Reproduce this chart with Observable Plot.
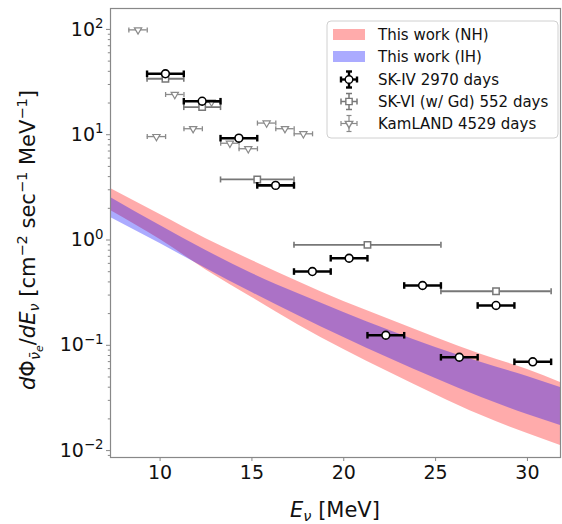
<!DOCTYPE html>
<html><head><meta charset="utf-8">
<script src="https://cdn.jsdelivr.net/npm/d3@7"></script>
<script src="https://cdn.jsdelivr.net/npm/@observablehq/plot@0.6"></script>
<style>
body{margin:0;background:#fff;}
#chart{width:562px;height:524px;}
</style>
</head><body><div id="chart"></div>
<script>
// ---- Model bands (flux, cm^-2 s^-1 MeV^-1)
const bandEnergy = [7.3, 10, 12.5, 15, 17.5, 20, 22.5, 25, 27.5, 30, 31.8];
const nhUpper = [3.09, 1.75, 1.03, 0.639, 0.403, 0.260, 0.176, 0.1185, 0.0817, 0.0588, 0.0443];
const nhLower = [1.91, 1.01, 0.52, 0.284, 0.157, 0.0911, 0.0551, 0.0340, 0.0215, 0.0145, 0.0112];
const ihUpper = [2.53, 1.37, 0.795, 0.481, 0.310, 0.205, 0.138, 0.0952, 0.0686, 0.0505, 0.0397];
const ihLower = [1.64, 0.926, 0.536, 0.317, 0.192, 0.1185, 0.0748, 0.0483, 0.0319, 0.0220, 0.0173];

// ---- SK-IV 2970 days
const skivEnergy = [10.29, 12.29, 14.29, 16.29, 18.29, 20.29, 22.29, 24.29, 26.29, 28.29, 30.29];
const skivLow    = [9.29, 11.29, 13.29, 15.29, 17.29, 19.29, 21.29, 23.29, 25.29, 27.29, 29.29];
const skivHigh   = [11.29, 13.29, 15.29, 17.29, 19.29, 21.29, 23.29, 25.29, 27.29, 29.29, 31.29];
const skivFlux   = [37.9, 20.8, 9.27, 3.3, 0.502, 0.671, 0.1246, 0.370, 0.077, 0.239, 0.0697];

// ---- SK-VI (w/ Gd) 552 days
const skviEnergy = [10.29, 12.29, 15.29, 21.29, 28.29];
const skviLow    = [9.29, 11.29, 13.29, 17.29, 25.29];
const skviHigh   = [11.29, 13.29, 17.29, 25.29, 31.29];
const skviFlux   = [34.0, 18.3, 3.76, 0.90, 0.326];

// ---- KamLAND 4529 days
const kamEnergy = [8.8, 9.8, 10.8, 11.8, 12.8, 13.8, 14.8, 15.8, 16.8, 17.8];
const kamLow    = [8.3, 9.3, 10.3, 11.3, 12.3, 13.3, 14.3, 15.3, 16.3, 17.3];
const kamHigh   = [9.3, 10.3, 11.3, 12.3, 13.3, 14.3, 15.3, 16.3, 17.3, 18.3];
const kamFlux   = [99, 9.6, 24.1, 11.4, 20.4, 8.3, 7.36, 12.9, 11.4, 10.2];

// ---- Axis ticks
const xTicks = [10, 15, 20, 25, 30];
const yTicks = [0.01, 0.1, 1, 10, 100];
const yTickExp = ["\u22122", "\u22121", "0", "1", "2"];
const legendLabels = ["This work (NH)", "This work (IH)", "SK-IV 2970 days", "SK-VI (w/ Gd) 552 days", "KamLAND 4529 days"];

const band = bandEnergy.map((e, i) => ({e, nhLo: nhLower[i], nhHi: nhUpper[i], ihLo: ihLower[i], ihHi: ihUpper[i]}));
const skiv = skivEnergy.map((e, i) => ({e, lo: skivLow[i], hi: skivHigh[i], f: skivFlux[i]}));
const skvi = skviEnergy.map((e, i) => ({e, lo: skviLow[i], hi: skviHigh[i], f: skviFlux[i]}));
const kam  = kamEnergy.map((e, i) => ({e, lo: kamLow[i], hi: kamHigh[i], f: kamFlux[i]}));

const yDomain = [0.0086, 158];
const minorTicks = [0.001, 0.01, 0.1, 1, 10, 100]
  .flatMap(d => [2,3,4,5,6,7,8,9].map(k => k * d))
  .filter(v => v >= yDomain[0] && v <= yDomain[1]);

const vbar = { draw(ctx, size) { const r = Math.sqrt(size / Math.PI); ctx.moveTo(0, -r); ctx.lineTo(0, r); } };

const SKIV = "#000", SKVI = "#777", KAM = "#8a8a8a";

function errSeries(data, color, lw, capR, capW, symbol, r, mw, rotate) {
  return [
    Plot.ruleY(data, {y: "f", x1: "lo", x2: "hi", stroke: color, strokeWidth: lw}),
    Plot.dot(data, {x: "lo", y: "f", symbol: vbar, r: capR, stroke: color, strokeWidth: capW, fill: "none"}),
    Plot.dot(data, {x: "hi", y: "f", symbol: vbar, r: capR, stroke: color, strokeWidth: capW, fill: "none"}),
    Plot.dot(data, {x: "e", y: "f", symbol, r, stroke: color, strokeWidth: mw, fill: "white", rotate: rotate || 0})
  ];
}

const plot = Plot.plot({
  width: 562, height: 524,
  marginLeft: 110, marginRight: 2, marginTop: 8, marginBottom: 67,
  style: {fontFamily: "DejaVu Sans, sans-serif", fontSize: "19px", background: "#fff", color: "#000"},
  x: {domain: [7.3, 31.8]},
  y: {type: "log", domain: yDomain},
  marks: [
    Plot.areaY(band, {x: "e", y1: "nhLo", y2: "nhHi", fill: "red", fillOpacity: 0.33, curve: "monotone-x"}),
    Plot.areaY(band, {x: "e", y1: "ihLo", y2: "ihHi", fill: "blue", fillOpacity: 0.33, curve: "monotone-x"}),
    ...errSeries(kam, KAM, 1.3, 2.5, 1.3, "triangle", 2.7, 1.2, 180),
    ...errSeries(skvi, SKVI, 1.8, 3, 1.6, "square", 3.6, 1.5),
    ...errSeries(skiv, SKIV, 2.6, 3.3, 2.4, "circle", 3.9, 1.6),
    Plot.frame({stroke: "#888", strokeWidth: 1.2}),
    Plot.axisX({ticks: xTicks, tickSize: 4, tickPadding: 4, label: null, stroke: "#888", fill: "#111"}),
    Plot.axisY({ticks: minorTicks, tickSize: 2.2, tickFormat: () => "", label: null, stroke: "#888"}),
    Plot.axisY({ticks: yTicks, tickSize: 4, tickPadding: 3, label: null, stroke: "#888", fill: "#111",
      tickFormat: d => "10^" + yTickExp[yTicks.indexOf(d)]})
  ]
});
document.getElementById("chart").appendChild(plot);

const svg = d3.select(plot);

// Rich tick labels (10 with superscript)
svg.selectAll("text").each(function() {
  const t = d3.select(this);
  const s = t.text();
  if (/^10\^/.test(s)) {
    const exp = s.slice(3);
    t.text("10");
    t.append("tspan").attr("dy", "-0.55em").attr("font-size", "0.7em").text(exp);
  }
});

// Axis labels
const xl = svg.append("text")
  .attr("x", 335).attr("y", 517).attr("text-anchor", "middle")
  .attr("font-size", 21).attr("fill", "#111");
xl.append("tspan").attr("font-style", "italic").text("E");
xl.append("tspan").attr("font-style", "italic").attr("font-size", 14.5).attr("dy", 4).text("\u03bd");
xl.append("tspan").attr("dy", -4).text(" [MeV]");

const yl = svg.append("text")
  .attr("transform", "translate(35,240) rotate(-90)")
  .attr("text-anchor", "middle").attr("font-size", 21).attr("fill", "#111");
yl.append("tspan").attr("font-style", "italic").text("d");
yl.append("tspan").text("\u03a6");
yl.append("tspan").attr("font-style", "italic").attr("font-size", 14.5).attr("dy", 5).text("\u03bd\u0304");
yl.append("tspan").attr("font-style", "italic").attr("font-size", 11).attr("dy", 3).text("e");
yl.append("tspan").attr("dy", -8).text("/");
yl.append("tspan").attr("font-style", "italic").text("dE");
yl.append("tspan").attr("font-style", "italic").attr("font-size", 14.5).attr("dy", 4).text("\u03bd");
yl.append("tspan").attr("dy", -4).text(" [cm");
yl.append("tspan").attr("font-size", 14.5).attr("dy", -8).text("\u22122");
yl.append("tspan").attr("dy", 8).text(" sec");
yl.append("tspan").attr("font-size", 14.5).attr("dy", -8).text("\u22121");
yl.append("tspan").attr("dy", 8).text(" MeV");
yl.append("tspan").attr("font-size", 14.5).attr("dy", -8).text("\u22121");
yl.append("tspan").attr("dy", 8).text("]");

// Legend
const lg = svg.append("g").attr("font-size", 15).attr("fill", "#111").attr("text-anchor", "start");
lg.append("rect").attr("x", 327).attr("y", 21).attr("width", 231).attr("height", 117).attr("rx", 4)
  .attr("fill", "#fff").attr("fill-opacity", 0.85).attr("stroke", "#d0d0d0");
const rowY = [34.5, 56.5, 79.5, 101.5, 123.5];
lg.append("rect").attr("x", 333).attr("y", rowY[0] - 5.5).attr("width", 32).attr("height", 11).attr("fill", "red").attr("fill-opacity", 0.33);
lg.append("rect").attr("x", 333).attr("y", rowY[1] - 5.5).attr("width", 32).attr("height", 11).attr("fill", "blue").attr("fill-opacity", 0.33);
function legMarker(cy, color, lw, half, cap, shape) {
  const g = lg.append("g").attr("stroke", color).attr("stroke-width", lw).attr("fill", "none");
  const cx = 349;
  g.append("line").attr("x1", cx - half).attr("x2", cx + half).attr("y1", cy).attr("y2", cy);
  g.append("line").attr("x1", cx).attr("x2", cx).attr("y1", cy - half).attr("y2", cy + half);
  g.append("line").attr("x1", cx - half).attr("x2", cx - half).attr("y1", cy - cap).attr("y2", cy + cap);
  g.append("line").attr("x1", cx + half).attr("x2", cx + half).attr("y1", cy - cap).attr("y2", cy + cap);
  g.append("line").attr("x1", cx - cap).attr("x2", cx + cap).attr("y1", cy - half).attr("y2", cy - half);
  g.append("line").attr("x1", cx - cap).attr("x2", cx + cap).attr("y1", cy + half).attr("y2", cy + half);
  g.append("path").attr("transform", `translate(${cx},${cy})` + (shape === d3.symbolTriangle ? " rotate(180)" : ""))
    .attr("d", d3.symbol(shape, shape === d3.symbolCircle ? 45 : shape === d3.symbolSquare ? 40 : 24)())
    .attr("fill", "#fff").attr("stroke-width", 1.4);
}
legMarker(rowY[2], SKIV, 2.4, 8, 3, d3.symbolCircle);
legMarker(rowY[3], SKVI, 1.5, 8, 3, d3.symbolSquare);
legMarker(rowY[4], KAM, 1.2, 8, 2.5, d3.symbolTriangle);
legendLabels.forEach((s, i) => {
  lg.append("text").attr("x", 378).attr("y", rowY[i]).attr("dy", "0.36em").attr("text-anchor", "start").text(s);
});
</script>
</body></html>
